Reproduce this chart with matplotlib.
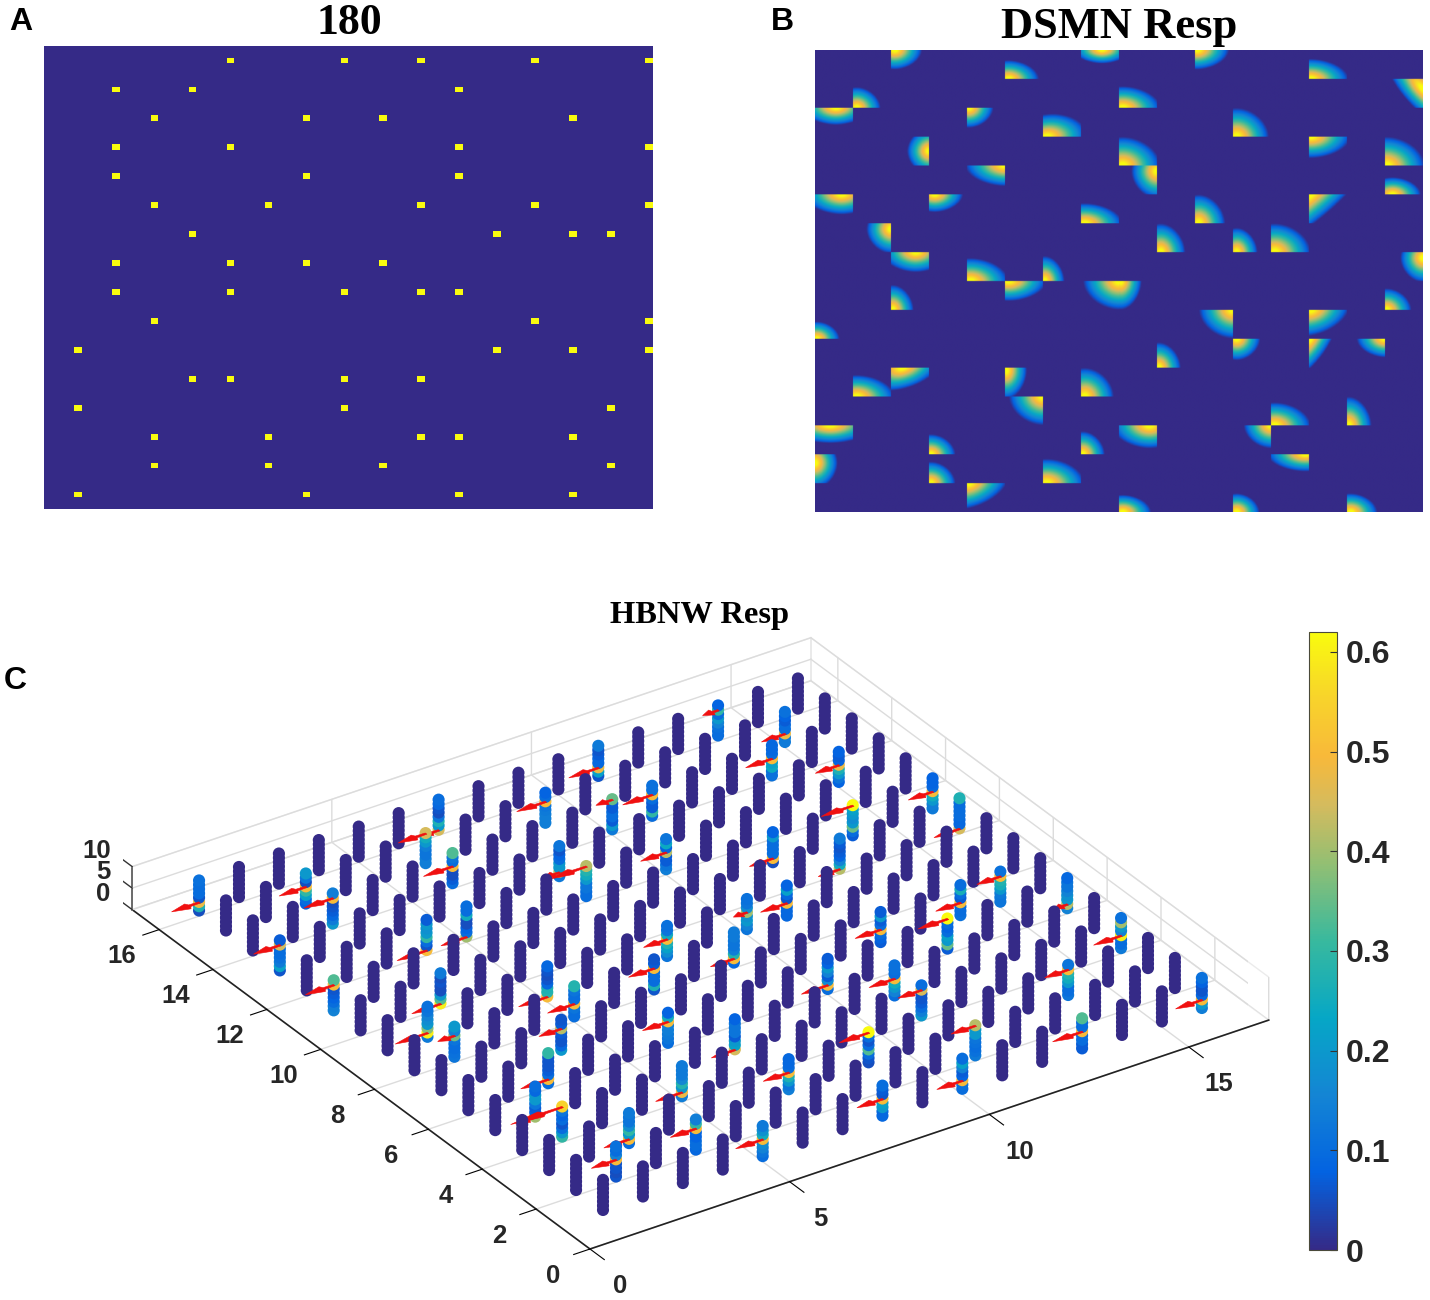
import numpy as np
import matplotlib
matplotlib.use("Agg")
import matplotlib.pyplot as plt
from matplotlib.colors import LinearSegmentedColormap, Normalize
from matplotlib.cm import ScalarMappable
from mpl_toolkits.mplot3d import proj3d
from mpl_toolkits.mplot3d.art3d import Poly3DCollection

plt.rcParams['font.family'] = ['Liberation Sans', 'DejaVu Sans']

W, H = 1430, 1300
N_CELLS = 16

# stimulus dots, one entry per dot: grid column and row (also used for panel C)
dot_col = [4, 7, 9, 12, 15,
           1, 3, 10,
           2, 6, 8, 13,
           1, 4, 10, 15,
           1, 6, 10,
           2, 5, 9, 12, 15,
           3, 11, 13, 14,
           1, 4, 6, 8,
           1, 4, 7, 9, 10,
           2, 12, 15,
           0, 11, 13, 15,
           3, 4, 7, 9,
           0, 7, 14,
           2, 5, 9, 10, 13,
           2, 5, 8, 14,
           0, 6, 10, 13]
dot_row = [0]*5 + [1]*3 + [2]*4 + [3]*4 + [4]*3 + [5]*5 + [6]*4 + [7]*4 + [8]*5 + [9]*3 \
    + [10]*4 + [11]*4 + [12]*3 + [13]*5 + [14]*4 + [15]*4

# panel C: responses of the eight levels of each active column, bottom to top
column_vals = [
    [.10, .12, .15, .17, .50, .25, .18, .13], [.09, .09, .20, .22, .50, .06, .07, .10],
    [.10, .11, .50, .08, .07, .15, .22, .10], [.07, .07, .10, .10, .50, .10, .10, .33],
    [.14, .20, .50, .09, .06, .06, .08, .11],
    [.06, .05, .06, .06, .50, .15, .10, .11], [.09, .10, .10, .08, .08, .50, .30, .14],
    [.13, .11, .10, .11, .12, .20, .20, .42],
    [.10, .50, .20, .30, .17, .12, .12, .13], [.14, .12, .20, .27, .50, .10, .09, .09],
    [.05, .06, .10, .33, .10, .06, .10, .62], [.12, .10, .10, .20, .25, .28, .50, .12],
    [.30, .20, .10, .06, .10, .08, .12, .55], [.14, .48, .20, .28, .16, .13, .13, .13],
    [.20, .14, .10, .07, .06, .06, .45, .10], [.13, .10, .10, .60, .15, .20, .40, .11],
    [.40, .08, .07, .12, .20, .20, .09, .10], [.45, .22, .20, .07, .12, .12, .12, .08],
    [.10, .15, .20, .25, .50, .10, .11, .11],
    [.10, .50, .10, .07, .06, .06, .06, .30], [.10, .12, .13, .14, .14, .50, .25, .08],
    [.10, .50, .17, .07, .15, .20, .08, .07], [.07, .35, .20, .22, .10, .08, .10, .62],
    [.15, .42, .20, .18, .15, .12, .12, .09],
    [.20, .09, .06, .06, .07, .42, .07, .06], [.07, .08, .10, .50, .10, .07, .20, .07],
    [.11, .10, .10, .50, .07, .10, .26, .10], [.12, .12, .13, .20, .26, .28, .50, .11],
    [.12, .11, .10, .10, .12, .36, .15, .20], [.10, .10, .12, .50, .10, .10, .12, .28],
    [.06, .27, .10, .10, .10, .50, .07, .06], [.09, .50, .28, .14, .12, .12, .13, .13],
    [.13, .60, .38, .20, .17, .15, .12, .11], [.50, .28, .27, .09, .06, .05, .06, .09],
    [.12, .17, .22, .27, .50, .25, .12, .11], [.12, .15, .20, .18, .40, .17, .12, .11],
    [.09, .09, .09, .50, .06, .09, .22, .08],
    [.60, .33, .20, .05, .05, .06, .05, .13], [.42, .25, .15, .08, .07, .06, .07, .13],
    [.45, .09, .09, .10, .10, .10, .10, .27],
    [.15, .14, .10, .08, .07, .06, .50, .33], [.05, .50, .10, .10, .10, .10, .20, .08],
    [.07, .10, .35, .20, .17, .20, .22, .62], [.13, .14, .20, .25, .50, .09, .08, .08],
    [.50, .06, .10, .30, .20, .18, .20, .07], [.40, .10, .08, .05, .05, .25, .10, .10],
    [.10, .10, .12, .12, .20, .25, .28, .42], [.14, .12, .07, .07, .42, .08, .24, .12],
    [.06, .22, .13, .11, .10, .10, .45, .07], [.13, .42, .20, .20, .10, .08, .06, .12],
    [.08, .12, .20, .27, .48, .08, .07, .08],
    [.20, .13, .09, .07, .06, .05, .50, .14], [.10, .07, .05, .05, .50, .10, .12, .33],
    [.13, .20, .07, .10, .10, .07, .07, .35], [.10, .30, .07, .07, .10, .50, .11, .11],
    [.11, .11, .24, .22, .50, .10, .09, .09],
    [.08, .10, .22, .30, .50, .05, .12, .20], [.14, .14, .12, .12, .14, .20, .25, .45],
    [.14, .14, .14, .13, .12, .50, .10, .08], [.13, .13, .48, .10, .10, .07, .08, .11],
    [.05, .27, .48, .06, .10, .10, .10, .11], [.45, .20, .27, .12, .05, .06, .09, .10],
    [.06, .22, .48, .09, .09, .07, .06, .13], [.10, .10, .11, .15, .20, .10, .30, .08],
]
arrow_len = [.69, .65, .65, .75, .67,
             .63, .65, .62,
             .64, .65, .75, .60,
             1.30, .67, .60, .70,
             .50, .60, .65,
             .70, .65, .67, .75, .35,
             .57, .65, .63, .60,
             .43, .68, .65, .60,
             .82, .73, .60, .35, .67,
             .73, .55, .65,
             .72, .60, .80, .62,
             .75, .65, .95, .65,
             .67, .40, .60,
             .74, .74, .42, .75, .67,
             .68, .70, .73, .60,
             .70, .50, .75, .40]

z_levels = [1.3, 2.3, 3.3, 4.3, 5.3, 6.3, 7.3, 8.3]
x_ticks = [0, 5, 10, 15]
y_ticks = [0, 2, 4, 6, 8, 10, 12, 14, 16]
z_ticks = [0, 5, 10]
cbar_ticks = [0, 0.1, 0.2, 0.3, 0.4, 0.5, 0.6]
cbar_max = 0.62

# panel B: response blobs, listed row by row. Each has a cell (col, row), a peak inside
# the cell (peak_u, peak_v), a reach (reach_u, reach_v) and a slant
blob_row = [0]*5 + [1]*3 + [2]*4 + [3]*4 + [4]*3 + [5]*5 + [6]*4 + [7]*4 + [8]*5 + [9]*3 \
    + [10]*4 + [11]*4 + [12]*3 + [13]*5 + [14]*4 + [15]*4
blob_col = [2, 5, 7, 10, 13,
            1, 8, 15,
            0, 4, 6, 11,
            2, 8, 13, 15,
            4, 8, 15,
            0, 3, 7, 10, 13,
            1, 9, 11, 12,
            2, 4, 6, 15,
            2, 5, 7, 8, 15,
            0, 10, 13,
            9, 11, 13, 14,
            1, 2, 5, 7,
            5, 12, 14,
            0, 3, 7, 8, 11,
            0, 3, 6, 12,
            4, 8, 11, 14]
peak_u = [.1, .1, .55, .05, .05,
          .1, .1, 1,
          .55, .05, .1, .1,
          1, .1, .05, .05,
          1, 1, .2,
          .7, .15, .1, .1, .05,
          1, .1, .1, .1,
          .65, .1, .05, 1,
          .05, .1, 1, .05, .05,
          .05, 1, .05,
          .05, .1, .03, 1,
          .1, .3, .03, .1,
          1, .1, .05,
          .4, .05, .05, .8, 1,
          0, .05, .1, .9,
          .05, .1, .1, .1]
peak_v = [0, 1, 0, 0, 1,
          1, 1, .35,
          0, 0, 1, 1,
          .5, 1, 0, 1,
          0, .2, 1,
          0, 0, 1, 1, 0,
          .2, 1, 1, 1,
          0, 1, 1, .2,
          1, 0, 0, 0, 1,
          1, 0, 0,
          1, 0, 0, 0,
          1, 0, .1, 1,
          0, 1, 1,
          0, 1, 1, 0, 0,
          .3, 1, 1, 0,
          0, 1, 1, 1]
reach_u = [.72, .8, .75, .85, 1.0,
           .63, 1.0, .66,
           .9, .65, 1.05, .85,
           .58, 1.0, 1.05, 1.0,
           1.05, .68, .75,
           1.0, .75, 1.0, .7, .95,
           .65, .65, .55, .95,
           .9, 1.0, .52, .6,
           .55, 1.0, .95, .55, .65,
           .6, .9, 1.0,
           .58, .62, .58, .75,
           1.0, .95, .55, .77,
           .9, .95, .6,
           1.2, .65, .58, 1.0, .72,
           .6, .65, 1.0, 1.0,
           1.0, .75, .6, .7]
reach_v = [.68, .65, .47, .68, .7,
           .72, .75, 1.5,
           .6, .7, .8, 1.0,
           .8, 1.0, .75, 1.0,
           .72, .95, .6,
           .7, .62, .7, 1.0, 2.0,
           .85, 1.0, .85, 1.0,
           .7, .8, .87, .85,
           .87, .7, 1.0, 1.0, .75,
           .6, 1.0, .92,
           .88, .75, 1.4, .65,
           .75, .8, 1.0, 1.0,
           1.0, .8, 1.0,
           .62, .7, .8, .8, .8,
           .9, .75, .85, .6,
           .92, .6, .65, .65]
blob_slant = [0, 0, 0, 0, 0,
              0, 0, -.53,
              0, 0, .2, 0,
              0, 0, 0, 0,
              0, 0, 0,
              0, 0, 0, 0, .7,
              0, 0, 0, 0,
              0, 0, 0, 0,
              0, 0, 0, 0, 0,
              0, 0, .2,
              0, 0, .35, 0,
              0, .4, 0, 0,
              0, 0, 0,
              0, 0, 0, 0, 0,
              0, 0, 0, 0,
              .3, 0, 0, 0]

parula = LinearSegmentedColormap.from_list("parula", [
    (0, "#352a87"), (.125, "#0363e1"), (.25, "#1485d4"), (.375, "#06a7c6"),
    (.5, "#38b99e"), (.625, "#92bf73"), (.72, "#d4bb5e"), (.8, "#f8b93a"),
    (.9, "#f8d52a"), (1, "#f9fb0e")], N=256)


def axes_box(left, top, right, bottom):
    return [left/W, 1-bottom/H, (right-left)/W, (bottom-top)/H]


fig = plt.figure(figsize=(W/100, H/100), dpi=100, facecolor="white")

# panel C goes in first so it stays under the flat panels
azim, elev = -124, 30
ax3 = fig.add_axes(axes_box(139, 380, 1264, 1505), projection='3d',
                   proj_type='ortho', computed_zorder=False, facecolor='none')
ax3.view_init(elev=elev, azim=azim)
ax3.set_box_aspect((819, 819, 49.7))

# the z axis sits on the far corner of the box, so its grid, ticks and labels are drawn by hand
for zt in z_ticks:
    ax3.plot([0, 17], [17, 17], [zt, zt], color='#dcdcdc', lw=1.0, zorder=1)
    ax3.plot([17, 17], [0, 17], [zt, zt], color='#dcdcdc', lw=1.0, zorder=1)

cam_x, cam_y = np.cos(np.radians(azim)), np.sin(np.radians(azim))
norm = Normalize(0, cbar_max)
active = {(c, r): i for i, (c, r) in enumerate(zip(dot_col, dot_row))}
for gx in range(1, N_CELLS+1):
    for gy in range(1, N_CELLS+1):
        depth = 1000 + 20*(cam_x*gx + cam_y*gy)
        idx = active.get((gx-1, gy-1))
        vals = [0]*len(z_levels) if idx is None else column_vals[idx]
        ax3.scatter([gx]*len(z_levels), [gy]*len(z_levels), z_levels, c=vals, cmap=parula,
                    norm=norm, s=76, linewidths=0, depthshade=False, zorder=depth)
        if idx is None:
            continue
        lev = z_levels[int(np.argmax(vals))]
        L = arrow_len[idx]
        verts = [(gx, gy+.03, lev), (gx-.35*L, gy+.04, lev), (gx-.42*L, gy+.12, lev),
                 (gx-L, gy, lev),
                 (gx-.42*L, gy-.12, lev), (gx-.35*L, gy-.04, lev), (gx, gy-.03, lev)]
        arrow = Poly3DCollection([verts], facecolors='#f01010', edgecolors='#f01010',
                                 linewidths=0.4, zorder=depth+20*L*.5*abs(cam_x))
        ax3.add_collection3d(arrow, autolim=False)

for zt in z_ticks:
    ax3.plot([0, 0], [17, 17.55], [zt, zt], color='#333333', lw=1.0, zorder=5000)

ax3.set_xlim(0, 17)
ax3.set_ylim(0, 17)
ax3.set_zlim(0, 10)

ax3.set_xticks(x_ticks)
ax3.set_yticks(y_ticks)
ax3.set_zticks([])
for axis in (ax3.xaxis, ax3.yaxis, ax3.zaxis):
    axis.pane.set_facecolor((1, 1, 1, 0))
    axis.pane.set_edgecolor('#d8d8d8')
    axis.pane.set_linewidth(1.0)
    axis._axinfo['grid'].update(color='#dcdcdc', linewidth=1.0)
    axis.line.set_color('#222222')
    axis.line.set_linewidth(1.2)
ax3.xaxis._axinfo['tick'].update(inward_factor=0.39, outward_factor=0)
ax3.yaxis._axinfo['tick'].update(inward_factor=0.30, outward_factor=0)
ax3.zaxis.line.set_color('#555555')
ax3.tick_params(axis='x', labelsize=18.5, labelcolor='#262626', pad=20)
ax3.tick_params(axis='y', labelsize=18.5, labelcolor='#262626', pad=15)
for t in ax3.get_xticklabels() + ax3.get_yticklabels():
    t.set_fontweight('bold')


def corner_px(x, y, z):
    px, py, _ = proj3d.proj_transform(x, y, z, ax3.get_proj())
    return ax3.transData.transform((px, py))


# slide and scale the 3D axes onto the floor corners of the reference
ax3.apply_aspect()
for _ in range(2):
    origin = corner_px(0, 0, 0)
    x_end = corner_px(17, 0, 0)
    scale = np.hypot(678, 231)/np.hypot(*(x_end-origin))
    pos = ax3.get_position(original=True)
    ax3.set_position([pos.x0, pos.y0, pos.width*scale, pos.height*scale])
    ax3.apply_aspect()
    origin = corner_px(0, 0, 0)
    pos = ax3.get_position(original=True)
    ax3.set_position([pos.x0+(590-origin[0])/W, pos.y0+((H-1249)-origin[1])/H, pos.width, pos.height])
    ax3.apply_aspect()

# z labels go on as figure text at the projected spot of their ticks
for zt in z_ticks:
    lx, ly = corner_px(0, 17.8, zt)
    fig.text(lx/W, ly/H, str(zt), ha='right', va='center', fontsize=18.5,
             fontweight='bold', color='#262626')

# panel A
ax_a = fig.add_axes(axes_box(44, 46, 653, 509))
grid_a = np.zeros((80, 80))
for c, r in zip(dot_col, dot_row):
    grid_a[2+5*r, 4+5*c] = 1
ax_a.imshow(grid_a, cmap=parula, vmin=0, vmax=1, aspect='auto', interpolation='nearest')
ax_a.axis('off')

# panel B
ax_b = fig.add_axes(axes_box(815, 50, 1423, 512))
cell_n = 48
grid_b = np.zeros((N_CELLS*cell_n, N_CELLS*cell_n))
uu, vv = np.meshgrid((np.arange(cell_n)+.5)/cell_n, (np.arange(cell_n)+.5)/cell_n)
for i in range(len(blob_col)):
    du = (uu-peak_u[i]+blob_slant[i]*(vv-peak_v[i]))/reach_u[i]
    dv = (vv-peak_v[i])/reach_v[i]
    d = (np.abs(du)**1.85+np.abs(dv)**1.85)**(1/1.85)
    resp = np.clip(1.1*(1-d), 0, 1)
    grid_b[blob_row[i]*cell_n:(blob_row[i]+1)*cell_n, blob_col[i]*cell_n:(blob_col[i]+1)*cell_n] = resp
ax_b.imshow(grid_b, cmap=parula, vmin=0, vmax=1, aspect='auto', interpolation='bilinear')
ax_b.axis('off')

# colorbar
cax = fig.add_axes(axes_box(1309, 632, 1337, 1250))
cb = fig.colorbar(ScalarMappable(norm=norm, cmap=parula), cax=cax, ticks=cbar_ticks)
cb.ax.set_yticklabels(['0', '0.1', '0.2', '0.3', '0.4', '0.5', '0.6'],
                      fontsize=23, fontweight='bold', color='#262626')
cb.ax.tick_params(direction='in', length=5, width=0.8, color='#333333', pad=6)
cb.outline.set_edgecolor('#4a4a3a')
cb.outline.set_linewidth(0.8)

# titles and panel letters
serif = ['Liberation Serif', 'DejaVu Serif']
fig.text(349/W, 1-23/H, "180", family=serif, fontweight='bold', fontsize=31.5,
         ha='center', va='center')
fig.text(1119/W, 1-27/H, "DSMN Resp", family=serif, fontweight='bold', fontsize=32,
         ha='center', va='center')
fig.text(700/W, 1-615/H, "HBNW Resp", family=serif, fontweight='bold', fontsize=23.4,
         ha='center', va='center')
fig.text(21/W, 1-22/H, "A", fontweight='bold', fontsize=23, ha='center', va='center')
fig.text(782/W, 1-22/H, "B", fontweight='bold', fontsize=23, ha='center', va='center')
fig.text(15/W, 1-681/H, "C", fontweight='bold', fontsize=23, ha='center', va='center')

fig.savefig("out.png", dpi=100)
